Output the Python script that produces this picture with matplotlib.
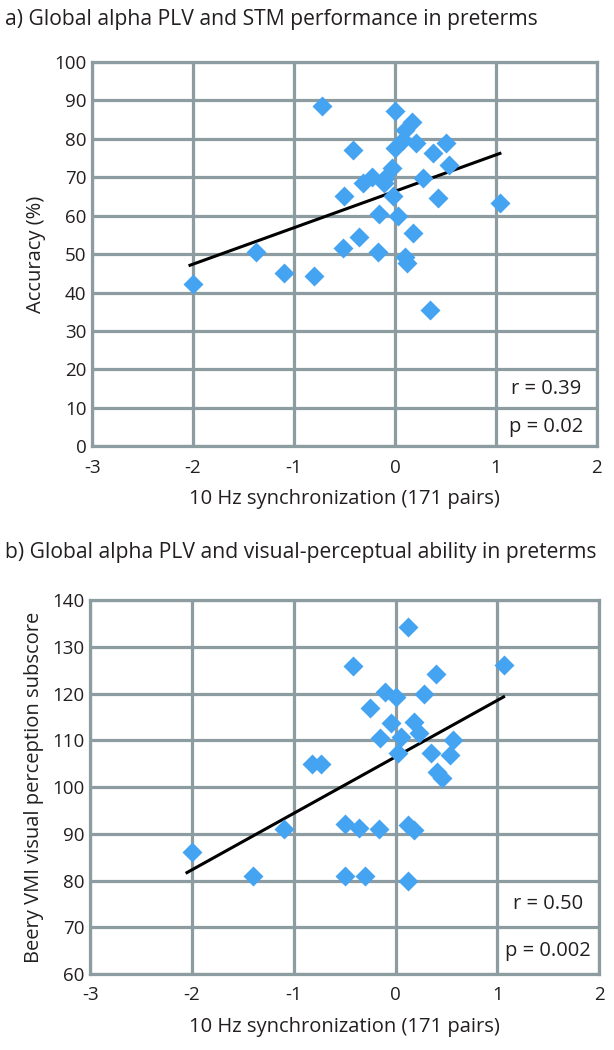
import matplotlib
matplotlib.use("Agg")
import matplotlib.pyplot as plt

plt.rcParams['font.family'] = ['Open Sans', 'DejaVu Sans']
plt.rcParams['axes.unicode_minus'] = False

# panel a: accuracy vs 10 Hz synchronization
acc_x = [-2.0, -1.38, -1.10, -0.80, -0.72, -0.51, -0.50, -0.42, -0.36, -0.32,
         -0.23, -0.16, -0.17, -0.11, -0.10, -0.03, -0.02, 0.0, 0.0, 0.08,
         0.10, 0.17, 0.21, 0.03, 0.18, 0.10, 0.12, 0.35, 0.38, 0.51,
         0.54, 0.28, 0.43, 1.04]
acc_y = [42.2, 50.6, 45.0, 44.3, 88.5, 51.5, 65.0, 77.1, 54.5, 68.4,
         70.1, 60.5, 50.5, 68.4, 69.7, 72.3, 65.0, 87.3, 77.5, 79.7,
         82.3, 84.5, 78.8, 60.0, 55.6, 49.3, 47.6, 35.5, 76.2, 78.8,
         73.2, 69.7, 64.5, 63.2]
acc_fit_x = [-2.03, 1.04]
acc_fit_y = [47.1, 76.2]

# panel b: Beery VMI visual perception vs 10 Hz synchronization
vmi_x = [-2.0, -1.4, -1.1, -0.82, -0.73, -0.5, -0.5, -0.42, -0.36, -0.30,
         -0.25, -0.16, -0.15, -0.10, -0.05, 0.0, 0.02, 0.05, 0.12, 0.12,
         0.12, 0.18, 0.18, 0.23, 0.28, 0.35, 0.40, 0.41, 0.46, 0.53,
         0.56, 1.06]
vmi_y = [86, 81, 91, 105, 105, 92.2, 81, 126, 91.2, 81,
         117, 91, 110.4, 120.4, 113.8, 119.3, 107.2, 110.8, 134.2, 91.9,
         80, 90.8, 114, 111.5, 120, 107.2, 124.2, 103.3, 101.9, 106.8,
         110.1, 126.1]
vmi_fit_x = [-2.05, 1.06]
vmi_fit_y = [81.7, 119.3]

grid_col = '#8d9ca0'
dot_col = '#44a4f2'
txt_col = '#231f20'
tick_fs = 13.5
lab_fs = 14.5
title_fs = 15.2

fig = plt.figure(figsize=(6.14, 10.5), dpi=100)
ax1 = fig.add_axes([0.150, 0.575, 0.822, 0.366])
ax2 = fig.add_axes([0.147, 0.0724, 0.829, 0.356])


def style(ax, ylo, yhi, ystep):
    ax.set_xlim(-3, 2)
    ax.set_ylim(ylo, yhi)
    ax.set_xticks(range(-3, 3))
    ax.set_yticks(range(ylo, yhi + 1, ystep))
    ax.grid(True, color=grid_col, linewidth=2.3, zorder=0)
    ax.set_axisbelow(True)
    for s in ax.spines.values():
        s.set_color(grid_col)
        s.set_linewidth(2.3)
    ax.tick_params(axis='x', length=0, labelsize=tick_fs, colors=txt_col, pad=9)
    ax.tick_params(axis='y', length=0, labelsize=tick_fs, colors=txt_col, pad=4)
    ax.set_xlabel('10 Hz synchronization (171 pairs)', fontsize=lab_fs,
                  color=txt_col, labelpad=9)


ax1.plot(acc_fit_x, acc_fit_y, color='black', lw=2.2, zorder=3)
ax1.plot(acc_x, acc_y, 'D', color=dot_col, ms=10, mec='none', zorder=4)
style(ax1, 0, 100, 10)
ax1.set_ylabel('Accuracy (%)', fontsize=lab_fs, color=txt_col, labelpad=6)
ax1.text(1.5, 15, 'r = 0.39', ha='center', va='center', fontsize=lab_fs, color=txt_col)
ax1.text(1.5, 5, 'p = 0.02', ha='center', va='center', fontsize=lab_fs, color=txt_col)

ax2.plot(vmi_fit_x, vmi_fit_y, color='black', lw=2.2, zorder=3)
ax2.plot(vmi_x, vmi_y, 'D', color=dot_col, ms=10, mec='none', zorder=4)
style(ax2, 60, 140, 10)
ax2.set_ylabel('Beery VMI visual perception subscore', fontsize=lab_fs,
               color=txt_col, labelpad=6)
ax2.text(1.5, 75, 'r = 0.50', ha='center', va='center', fontsize=lab_fs, color=txt_col)
ax2.text(1.5, 65, 'p = 0.002', ha='center', va='center', fontsize=lab_fs, color=txt_col)

fig.text(0.008, 0.981, 'a) Global alpha PLV and STM performance in preterms',
         fontsize=title_fs, color=txt_col, va='center')
fig.text(0.008, 0.474, 'b) Global alpha PLV and visual-perceptual ability in preterms',
         fontsize=title_fs, color=txt_col, va='center')

fig.savefig('out.png', dpi=100)
